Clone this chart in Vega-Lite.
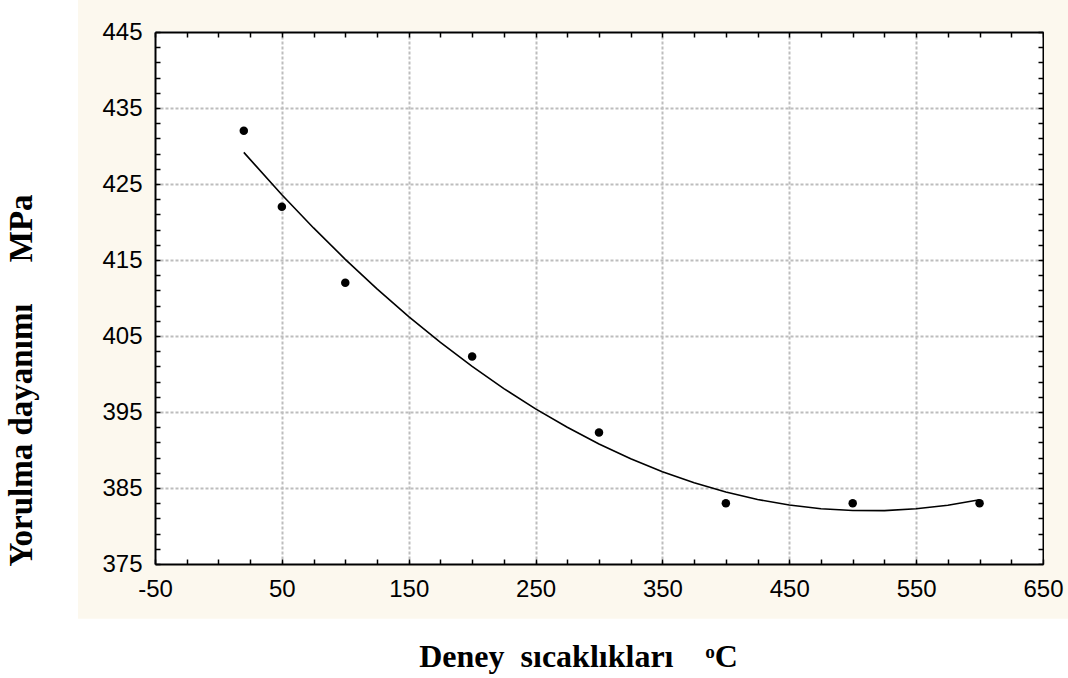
{
  "$schema": "https://vega.github.io/schema/vega-lite/v6.json",
  "width": 888,
  "height": 532,
  "autosize": {"type": "none"},
  "padding": {"left": 155, "top": 32, "right": 25, "bottom": 114},
  "background": "white",
  "config": {
    "view": {"stroke": null, "fill": "white"},
    "axis": {
      "domainColor": "black",
      "domainWidth": 2,
      "tickColor": "black",
      "tickWidth": 1.5,
      "tickSize": -5,
      "labelFont": "Liberation Sans",
      "labelFontSize": 24,
      "labelColor": "black",
      "gridColor": "#bdbdbd",
      "gridWidth": 2,
      "gridDash": [3, 2],
      "titleFont": "Liberation Serif",
      "titleFontWeight": "bold",
      "titleColor": "black"
    }
  },
  "datasets": {
    "points": [
      {"t": 20, "v": 432},
      {"t": 50, "v": 422},
      {"t": 100, "v": 412},
      {"t": 200, "v": 402.3},
      {"t": 300, "v": 392.3},
      {"t": 400, "v": 383},
      {"t": 500, "v": 383},
      {"t": 600, "v": 383}
    ],
    "fit": [
      {"t": 20, "v": 429.16},
      {"t": 50, "v": 423.59},
      {"t": 75, "v": 419.22},
      {"t": 100, "v": 415.09},
      {"t": 125, "v": 411.2},
      {"t": 150, "v": 407.56},
      {"t": 175, "v": 404.16},
      {"t": 200, "v": 401.0},
      {"t": 225, "v": 398.08},
      {"t": 250, "v": 395.41},
      {"t": 275, "v": 392.99},
      {"t": 300, "v": 390.8},
      {"t": 325, "v": 388.85},
      {"t": 350, "v": 387.15},
      {"t": 375, "v": 385.69},
      {"t": 400, "v": 384.47},
      {"t": 425, "v": 383.49},
      {"t": 450, "v": 382.76},
      {"t": 475, "v": 382.27},
      {"t": 500, "v": 382.03},
      {"t": 525, "v": 382.02},
      {"t": 550, "v": 382.26},
      {"t": 575, "v": 382.74},
      {"t": 600, "v": 383.46}
    ]
  },
  "layer": [
    {
      "data": {"values": [{}]},
      "mark": {"type": "rect", "fill": "#fcf8ee", "clip": false},
      "encoding": {
        "x": {"datum": -110.7, "type": "quantitative", "scale": {"domain": [-50, 650], "nice": false, "zero": false}, "axis": null},
        "x2": {"datum": -50.8},
        "y": {"datum": 367.8, "type": "quantitative", "scale": {"domain": [375, 445], "nice": false, "zero": false}, "axis": null},
        "y2": {"datum": 449.2}
      }
    },
    {
      "data": {"values": [{}]},
      "mark": {"type": "rect", "fill": "#fcf8ee", "clip": false},
      "encoding": {
        "x": {"datum": 650.8, "type": "quantitative", "scale": {"domain": [-50, 650], "nice": false, "zero": false}, "axis": null},
        "x2": {"datum": 669.7},
        "y": {"datum": 367.8, "type": "quantitative", "scale": {"domain": [375, 445], "nice": false, "zero": false}, "axis": null},
        "y2": {"datum": 449.2}
      }
    },
    {
      "data": {"values": [{}]},
      "mark": {"type": "rect", "fill": "#fcf8ee", "clip": false},
      "encoding": {
        "x": {"datum": -51, "type": "quantitative", "scale": {"domain": [-50, 650], "nice": false, "zero": false}, "axis": null},
        "x2": {"datum": 651},
        "y": {"datum": 445.14, "type": "quantitative", "scale": {"domain": [375, 445], "nice": false, "zero": false}, "axis": null},
        "y2": {"datum": 449.2}
      }
    },
    {
      "data": {"values": [{}]},
      "mark": {"type": "rect", "fill": "#fcf8ee", "clip": false},
      "encoding": {
        "x": {"datum": -51, "type": "quantitative", "scale": {"domain": [-50, 650], "nice": false, "zero": false}, "axis": null},
        "x2": {"datum": 651},
        "y": {"datum": 367.8, "type": "quantitative", "scale": {"domain": [375, 445], "nice": false, "zero": false}, "axis": null},
        "y2": {"datum": 374.86}
      }
    },
    {
      "data": {"name": "fit"},
      "mark": {"type": "line", "color": "black", "strokeWidth": 1.6},
      "encoding": {
        "x": {
          "field": "t", "type": "quantitative",
          "scale": {"domain": [-50, 650], "nice": false, "zero": false},
          "axis": {
            "orient": "bottom",
            "zindex": 1,
            "values": [-50, -25, 0, 25, 50, 75, 100, 125, 150, 175, 200, 225, 250, 275, 300, 325, 350, 375, 400, 425, 450, 475, 500, 525, 550, 575, 600, 625, 650],
            "labelExpr": "(datum.value + 50) % 100 === 0 ? replace(datum.label, '\u2212', '-') : ''",
            "labelPadding": 18,
            "labelFlush": false,
            "labelOverlap": false,
            "grid": false,
            "title": "Deney\u00a0\u00a0sıcaklıkları\u00a0\u00a0\u00a0\u00a0ᵒC",
            "titleFontSize": 32,
            "titleX": 423,
            "titleY": 102,
            "titleAlign": "center",
            "titleBaseline": "alphabetic"
          }
        },
        "y": {
          "field": "v", "type": "quantitative",
          "scale": {"domain": [375, 445], "nice": false, "zero": false},
          "axis": {
            "orient": "left",
            "zindex": 1,
            "values": [375, 377, 379, 381, 383, 385, 387, 389, 391, 393, 395, 397, 399, 401, 403, 405, 407, 409, 411, 413, 415, 417, 419, 421, 423, 425, 427, 429, 431, 433, 435, 437, 439, 441, 443, 445],
            "labelExpr": "(datum.value - 375) % 10 === 0 ? datum.label : ''",
            "labelPadding": 18,
            "labelFlush": false,
            "labelOverlap": false,
            "grid": false,
            "title": "Yorulma dayanımı\u00a0\u00a0\u00a0\u00a0\u00a0MPa",
            "titleFontSize": 33,
            "titleX": -124,
            "titleY": 348,
            "titleAngle": -90,
            "titleAlign": "center",
            "titleBaseline": "alphabetic"
          }
        }
      }
    },
    {
      "data": {"name": "points"},
      "mark": {"type": "circle", "color": "black", "opacity": 1, "size": 72},
      "encoding": {
        "x": {
          "field": "t", "type": "quantitative",
          "scale": {"domain": [-50, 650], "nice": false, "zero": false},
          "axis": {
            "orient": "top",
            "zindex": 0,
            "values": [-50, -25, 0, 25, 50, 75, 100, 125, 150, 175, 200, 225, 250, 275, 300, 325, 350, 375, 400, 425, 450, 475, 500, 525, 550, 575, 600, 625, 650],
            "labels": false,
            "grid": true,
            "gridOpacity": {"condition": {"test": "(datum.value + 50) % 100 === 0 && datum.value > -50 && datum.value < 650", "value": 1}, "value": 0},
            "title": null
          }
        },
        "y": {
          "field": "v", "type": "quantitative",
          "scale": {"domain": [375, 445], "nice": false, "zero": false},
          "axis": {
            "orient": "right",
            "zindex": 0,
            "values": [375, 377, 379, 381, 383, 385, 387, 389, 391, 393, 395, 397, 399, 401, 403, 405, 407, 409, 411, 413, 415, 417, 419, 421, 423, 425, 427, 429, 431, 433, 435, 437, 439, 441, 443, 445],
            "labels": false,
            "grid": true,
            "gridOpacity": {"condition": {"test": "(datum.value - 375) % 10 === 0 && datum.value > 375 && datum.value < 445", "value": 1}, "value": 0},
            "title": null
          }
        }
      }
    }
  ],
  "resolve": {"axis": {"x": "independent", "y": "independent"}}
}
